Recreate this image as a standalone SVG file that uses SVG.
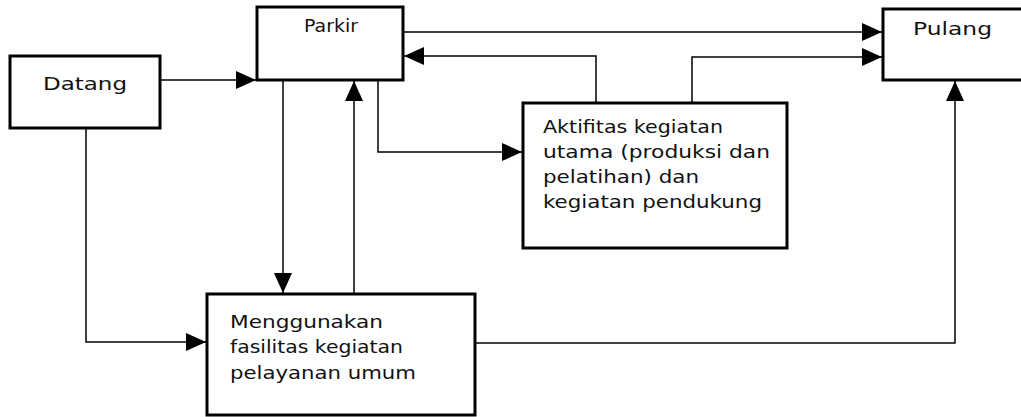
<svg xmlns="http://www.w3.org/2000/svg" width="1021" height="417" viewBox="0 0 1021 417">
<style>
.box{fill:#fff;stroke:#000;stroke-width:3}
.t{font-family:"DejaVu Sans",sans-serif;font-size:17px;fill:#111}
.ln{fill:none;stroke:#000;stroke-width:1.5}
</style>
<defs>
<marker id="ah" viewBox="0 0 20 18" refX="20" refY="9" markerWidth="20" markerHeight="18" markerUnits="userSpaceOnUse" orient="auto">
<path d="M0,0 L20,9 L0,18 Z" fill="#000"/>
</marker>
</defs>
<rect width="1021" height="417" fill="#fff"/>
<g id="connectors">
<path class="ln" d="M160,80 H256" marker-end="url(#ah)"/>
<path class="ln" d="M403,32 H882" marker-end="url(#ah)"/>
<path class="ln" d="M596,103 V56 H404" marker-end="url(#ah)"/>
<path class="ln" d="M692,103 V57 H882" marker-end="url(#ah)"/>
<path class="ln" d="M378,80 V152 H522" marker-end="url(#ah)"/>
<path class="ln" d="M283,80 V293" marker-end="url(#ah)"/>
<path class="ln" d="M354,294 V81" marker-end="url(#ah)"/>
<path class="ln" d="M86,128 V342 H206" marker-end="url(#ah)"/>
<path class="ln" d="M475,343 H955 V81" marker-end="url(#ah)"/>
</g>
<g id="datang">
<rect class="box" x="10" y="56" width="150" height="72"/>
<text class="t" x="43" y="90" font-size="18" textLength="84" lengthAdjust="spacingAndGlyphs">Datang</text>
</g>
<g id="parkir">
<rect class="box" x="257" y="7" width="146" height="73"/>
<text class="t" x="304" y="32" font-size="15" textLength="54" lengthAdjust="spacingAndGlyphs">Parkir</text>
</g>
<g id="pulang">
<rect class="box" x="883" y="9" width="150" height="71"/>
<text class="t" x="913" y="35" font-size="16" textLength="79" lengthAdjust="spacingAndGlyphs">Pulang</text>
</g>
<g id="aktifitas">
<rect class="box" x="523" y="103" width="264" height="145"/>
<text class="t" x="543" y="133" textLength="180" lengthAdjust="spacingAndGlyphs">Aktifitas kegiatan</text>
<text class="t" x="543" y="158" textLength="227" lengthAdjust="spacingAndGlyphs">utama (produksi dan</text>
<text class="t" x="543" y="183" textLength="156" lengthAdjust="spacingAndGlyphs">pelatihan) dan</text>
<text class="t" x="543" y="208" textLength="219" lengthAdjust="spacingAndGlyphs">kegiatan pendukung</text>
</g>
<g id="menggunakan">
<rect class="box" x="207" y="294" width="268" height="121"/>
<text class="t" x="230" y="328" textLength="153" lengthAdjust="spacingAndGlyphs">Menggunakan</text>
<text class="t" x="230" y="353" textLength="173" lengthAdjust="spacingAndGlyphs">fasilitas kegiatan</text>
<text class="t" x="230" y="379" textLength="186" lengthAdjust="spacingAndGlyphs">pelayanan umum</text>
</g>
</svg>
